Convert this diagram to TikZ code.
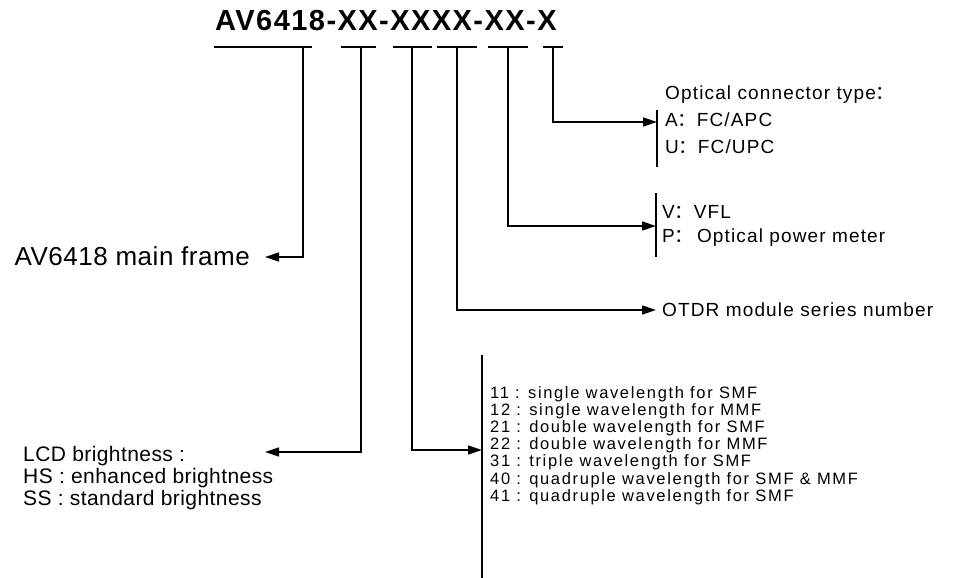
\documentclass[tikz,border=0pt]{standalone}
\usepackage{fontspec}
\setmainfont{Liberation Sans}
\newfontfamily\codefont[LetterSpace=5]{Liberation Sans}
\newfontfamily\framefont[LetterSpace=2]{Liberation Sans}
\newfontfamily\keyfont[LetterSpace=6]{Liberation Sans}
\newfontfamily\listfont[LetterSpace=10]{Liberation Sans}
\newfontfamily\cjk{Noto Sans CJK SC}
\newcommand\fwc{{\cjk ：}}
\usetikzlibrary{arrows.meta}

\begin{document}
\begin{tikzpicture}[x=1pt,y=-1pt,
  bar/.style={line width=1.4pt},
  conn/.style={line width=1.4pt,-{Triangle[length=14pt,width=9pt]}},
  key/.style={inner sep=0pt,align=left,font=\keyfont\fontsize{19}{27}\selectfont},
  codes/.style={inner sep=0pt,align=left,font=\listfont\fontsize{16.5}{17.2}\selectfont}]
\setlength{\lineskiplimit}{-20pt}
\useasboundingbox (0,0) rectangle (958,578);

% the model code and its brackets
\node[anchor=base west,inner sep=0pt,font=\codefont\bfseries\fontsize{29}{32}\selectfont] (code) at (215,31) {AV6418-XX-XXXX-XX-X};

\foreach \a/\b/\s/\n in {214/312/303/1, 341/376/361/2, 393/432/412/3, 437/477/457/4, 488/528/508/5, 543/563/553/6}{
  \draw[bar] (\a,47) -- (\b,47);
  \coordinate (s\n) at (\s,47);
}

% left side
\node[anchor=east,inner sep=0pt,font=\framefont\fontsize{26}{30}\selectfont] (frame) at (250,256) {AV6418 main frame};
\coordinate (frametip) at (265,257);

\node[anchor=north west,inner sep=0pt,align=left,font=\framefont\fontsize{21}{22}\selectfont] (lcd) at (23,446)
  {LCD brightness :\\HS : enhanced brightness\\SS : standard brightness};
\coordinate (lcdtip) at (265,452);

% right side
\node[key,anchor=north west] (optical) at (665,86) {Optical connector type\fwc\\A\fwc FC/APC\\U\fwc FC/UPC};
\draw[bar] (657,110) -- (657,167);
\coordinate (opticaltip) at (657,122);

\node[key,anchor=north west,font=\keyfont\fontsize{19}{24}\selectfont] (meter) at (662,205) {V\fwc VFL\\P\fwc\,Optical power meter};
\draw[bar] (656,193) -- (656,257);
\coordinate (metertip) at (656,226);

\node[key,anchor=west] (otdr) at (662,310) {OTDR module series number};
\coordinate (otdrtip) at (656,310);

\node[codes,anchor=north west] (wave) at (490,386)
  {11 : single wavelength for SMF\\12 : single wavelength for MMF\\21 : double wavelength for SMF\\22 : double wavelength for MMF\\31 : triple wavelength for SMF\\40 : quadruple wavelength for SMF \& MMF\\41 : quadruple wavelength for SMF};
\draw[bar] (482,355) -- (482,578);
\coordinate (wavetip) at (482,450);

% connectors
\draw[conn] (s1) |- (frametip);
\draw[conn] (s2) |- (lcdtip);
\draw[conn] (s3) |- (wavetip);
\draw[conn] (s4) |- (otdrtip);
\draw[conn] (s5) |- (metertip);
\draw[conn] (s6) |- (opticaltip);

\end{tikzpicture}
\end{document}
